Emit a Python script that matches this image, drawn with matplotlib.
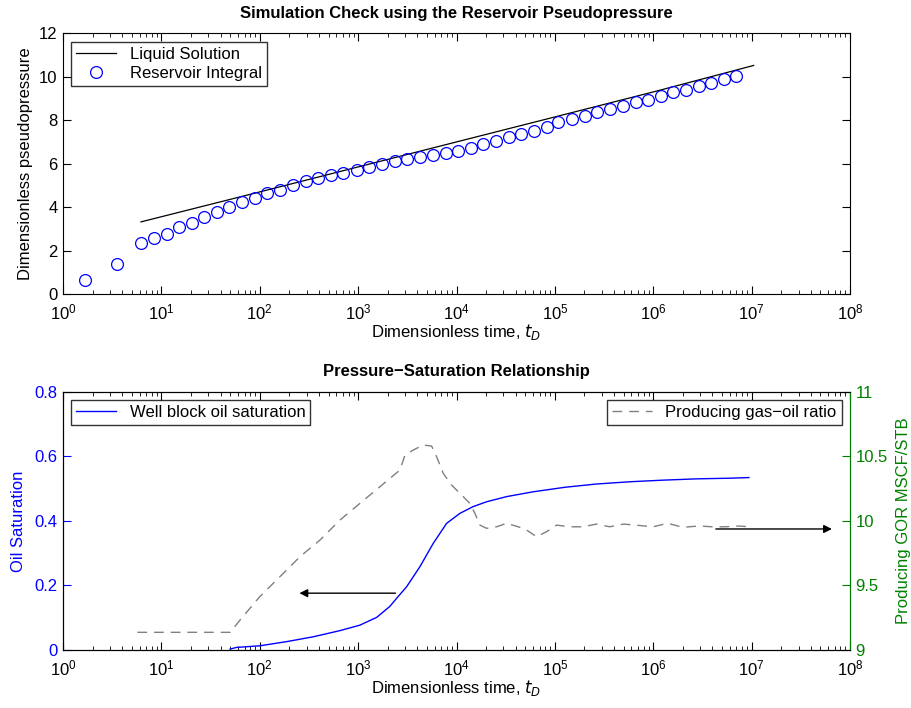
import numpy as np
import matplotlib
matplotlib.use("Agg")
import matplotlib.pyplot as plt
from matplotlib.ticker import (FixedLocator, NullFormatter, MultipleLocator,
                               FuncFormatter, LogFormatterSciNotation)

plt.rcParams['font.family'] = ['Liberation Sans', 'DejaVu Sans']

# ---------------------------------------------------------------------------
# Top panel: liquid solution vs reservoir integral
# ---------------------------------------------------------------------------
liq_t = [6.2, 1e2, 1e3, 1e4, 1e5, 1e6, 1.05e7]
liq_pd = [3.32, 4.70, 5.85, 7.00, 8.15, 9.30, 10.52]

res_t = [1.67, 3.56, 6.16, 8.41, 11.3, 15.2, 20.5, 27.3, 36.5, 49.0, 65.9, 89.4,
         119, 160, 219, 295, 393, 529, 706, 966, 1297, 1734, 2350, 3155, 4246,
         5715, 7745, 10400, 14000, 18670, 25130, 34100, 45440, 61600, 82400,
         108000, 150000, 202000, 269000, 362000, 488000, 661000, 881000,
         1.19e6, 1.59e6, 2.14e6, 2.90e6, 3.91e6, 5.22e6, 7.02e6]
res_pd = [0.65, 1.37, 2.37, 2.58, 2.78, 3.07, 3.27, 3.55, 3.77, 4.01, 4.23, 4.43,
          4.66, 4.81, 5.00, 5.20, 5.33, 5.46, 5.56, 5.71, 5.86, 5.97, 6.12, 6.23,
          6.32, 6.39, 6.48, 6.58, 6.74, 6.90, 7.05, 7.21, 7.36, 7.51, 7.70,
          7.90, 8.06, 8.21, 8.36, 8.52, 8.67, 8.83, 8.95, 9.11, 9.29, 9.41,
          9.57, 9.72, 9.88, 10.03]

# ---------------------------------------------------------------------------
# Bottom panel: oil saturation and producing GOR
# ---------------------------------------------------------------------------
so_t = [50, 58, 100, 188, 350, 653, 1042, 1542, 2100, 2460, 3112, 4246, 5794,
        7925, 10800, 14750, 20200, 32300, 60300, 1.27e5, 2.64e5, 5.78e5,
        1.26e6, 2.75e6, 6.0e6, 9.4e6]
so = [0.003, 0.008, 0.013, 0.026, 0.041, 0.060, 0.077, 0.101, 0.135, 0.160, 0.196,
      0.258, 0.330, 0.392, 0.423, 0.444, 0.459, 0.475, 0.490, 0.504, 0.514,
      0.521, 0.526, 0.530, 0.532, 0.534]

gor_t = [5.7, 20, 50, 63, 100, 160, 256, 409, 653, 1042, 1663, 2660, 2992,
         3630, 4590, 5585, 6280, 7330, 8910, 11270, 13680, 15380, 17300, 20230,
         25590, 32300, 42360, 51500, 65200, 82400, 1.04e5, 1.42e5, 1.94e5,
         2.65e5, 3.6e5, 5.0e5, 7.0e5, 1.0e6, 1.4e6, 2.0e6, 2.9e6, 4.0e6, 5.4e6,
         7.5e6, 9.4e6]
gor = [9.137, 9.137, 9.137, 9.232, 9.413, 9.567, 9.722, 9.851, 10.006, 10.135,
       10.264, 10.393, 10.509, 10.548, 10.587, 10.579, 10.496, 10.368, 10.277,
       10.200, 10.135, 10.058, 9.967, 9.942, 9.954, 9.981, 9.954, 9.929, 9.877,
       9.916, 9.967, 9.954, 9.954, 9.975, 9.954, 9.975, 9.965, 9.954, 9.981,
       9.950, 9.960, 9.954, 9.954, 9.960, 9.954]

# arrows: (tail, head) in data coordinates
arrow_left = ((2557, 0.176), (237, 0.176))
arrow_right = ((4.06e6, 9.937), (7.0e7, 9.937))

BLUE = "#0000ff"
GREEN = "#008000"
GRAY = "#808080"

decades = 10.0 ** np.arange(0, 9)
minors = np.array([d * s for d in decades[:-1] for s in range(2, 10)])
plain = FuncFormatter(lambda v, pos: f"{v:g}")


def style_log_axis(ax):
    ax.set_xscale("log")
    ax.set_xlim(1, 1e8)
    ax.xaxis.set_major_locator(FixedLocator(decades))
    ax.xaxis.set_major_formatter(LogFormatterSciNotation())
    ax.xaxis.set_minor_locator(FixedLocator(minors))
    ax.xaxis.set_minor_formatter(NullFormatter())
    ax.tick_params(which="both", direction="in", top=True, labelsize=12)
    ax.tick_params(axis="x", which="major", length=6, pad=6)
    ax.tick_params(axis="y", which="major", length=6, pad=4)
    ax.tick_params(which="minor", length=3)


fig = plt.figure(figsize=(9.11, 7.08), dpi=100)

# ---- top ------------------------------------------------------------------
ax1 = fig.add_axes([0.0692, 0.5847, 0.8638, 0.3683])
ax1.plot(liq_t, liq_pd, "-", color="k", lw=0.9, label="Liquid Solution")
ax1.plot(res_t, res_pd, "o", mfc="none", mec=BLUE, ms=8.5, mew=0.9,
         label="Reservoir Integral")
style_log_axis(ax1)
ax1.tick_params(which="both", right=True)
ax1.set_ylim(0, 12)
ax1.yaxis.set_major_locator(MultipleLocator(2))
ax1.yaxis.set_major_formatter(plain)
ax1.set_title("Simulation Check using the Reservoir Pseudopressure",
              fontsize=12, fontweight="bold", pad=11)
ax1.set_xlabel("Dimensionless time, $t_D$", fontsize=12, labelpad=0)
ax1.set_ylabel("Dimensionless pseudopressure", fontsize=12, labelpad=4)
leg1 = ax1.legend(loc="upper left", fancybox=False, edgecolor="k",
                  prop={"size": 12}, borderaxespad=0.5,
                  handlelength=2.4, borderpad=0.3, labelspacing=0.25)
leg1.get_frame().set_linewidth(1.0)

# ---- bottom -----------------------------------------------------------------
ax2 = fig.add_axes([0.0692, 0.0819, 0.8638, 0.3649])
ax3 = ax2.twinx()
l_so, = ax2.plot(so_t, so, "-", color=BLUE, lw=1.0, label="Well block oil saturation")
l_gor, = ax3.plot(gor_t, gor, "--", color=GRAY, lw=1.0, dashes=(7, 5),
                  label="Producing gas\u2212oil ratio")
style_log_axis(ax2)
ax2.set_ylim(0, 0.8)
ax2.yaxis.set_major_locator(MultipleLocator(0.2))
ax2.yaxis.set_major_formatter(plain)
ax2.tick_params(axis="y", colors=BLUE)
ax3.set_ylim(9, 11)
ax3.yaxis.set_major_locator(MultipleLocator(0.5))
ax3.yaxis.set_major_formatter(plain)
ax3.tick_params(axis="y", which="both", direction="in", colors=GREEN, labelsize=12,
                length=6, pad=4)
ax3.spines["right"].set_color(GREEN)
ax2.spines["right"].set_color(GREEN)
ax3.set_xlim(1, 1e8)

ax2.set_title("Pressure\u2212Saturation Relationship", fontsize=12, fontweight="bold", pad=11)
ax2.set_xlabel("Dimensionless time, $t_D$", fontsize=12, labelpad=0)
ax2.set_ylabel("Oil Saturation", color=BLUE, fontsize=12, labelpad=6)
ax3.set_ylabel("Producing GOR MSCF/STB", color=GREEN, fontsize=12, labelpad=6)

leg2 = ax2.legend(handles=[l_so], loc="upper left", fancybox=False, edgecolor="k",
                  prop={"size": 12}, borderaxespad=0.5,
                  handlelength=2.4, borderpad=0.3)
leg2.get_frame().set_linewidth(1.0)
leg3 = ax3.legend(handles=[l_gor], loc="upper right", fancybox=False, edgecolor="k",
                  prop={"size": 12}, borderaxespad=0.5,
                  handlelength=2.4, borderpad=0.3)
leg3.get_frame().set_linewidth(1.0)

arrow_props = dict(arrowstyle="-|>", color="k", lw=1.0, mutation_scale=12)
ax2.annotate("", xy=arrow_left[1], xytext=arrow_left[0], arrowprops=arrow_props)
ax3.annotate("", xy=arrow_right[1], xytext=arrow_right[0], arrowprops=arrow_props)

fig.savefig("out.png", dpi=100)
